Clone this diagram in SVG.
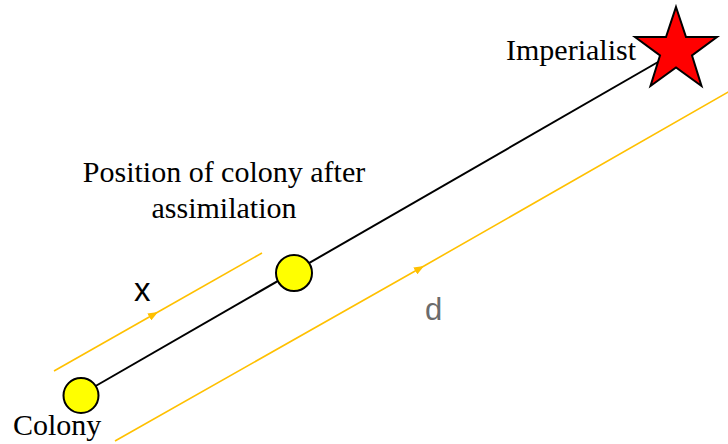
<svg xmlns="http://www.w3.org/2000/svg" width="728" height="444" viewBox="0 0 728 444">
<style>
.serif{font-family:"Liberation Serif","Times New Roman",serif;font-size:30px;fill:#000}
.sans{font-family:"Liberation Sans",Arial,sans-serif}
.ylw{stroke:#FFC000;stroke-width:1.6;fill:none}
.node{fill:#FFFF00;stroke:#000;stroke-width:2}
</style>
<defs>
<marker id="arr" viewBox="0 0 10 8" refX="10" refY="4" markerWidth="10" markerHeight="8" markerUnits="userSpaceOnUse" orient="auto">
<path d="M0,0 L10,4 L0,8 Z" fill="#FFC000"/>
</marker>
</defs>
<rect width="728" height="444" fill="#fff"/>
<g id="connectors">
<line x1="80" y1="395" x2="665" y2="58" stroke="#000" stroke-width="2"/>
<polyline class="ylw" points="54,371 158,312 262,253" marker-mid="url(#arr)"/>
<polyline class="ylw" points="115,441 424,266 730,91" marker-mid="url(#arr)"/>
</g>
<g id="imperialist">
<polygon class="node" fill="#FF0000" style="fill:#FF0000" points="676,7 686.0,37 717,37 692,55.5 701.5,86 676,67.5 650.5,86 660,55.5 635,37 666.0,37"/>
<text class="serif" x="636" y="60" text-anchor="end">Imperialist</text>
</g>
<g id="assimilated">
<circle class="node" cx="294" cy="273" r="18"/>
<text class="serif" x="224" y="182" text-anchor="middle">Position of colony after</text>
<text class="serif" x="224" y="218" text-anchor="middle">assimilation</text>
</g>
<g id="colony">
<circle class="node" cx="81" cy="395.5" r="17.5"/>
<text class="serif" x="13" y="435">Colony</text>
</g>
<text class="sans" x="134" y="301" font-size="33" fill="#000">x</text>
<text class="sans" x="425" y="320" font-size="31" fill="#6b6b6b">d</text>
</svg>
